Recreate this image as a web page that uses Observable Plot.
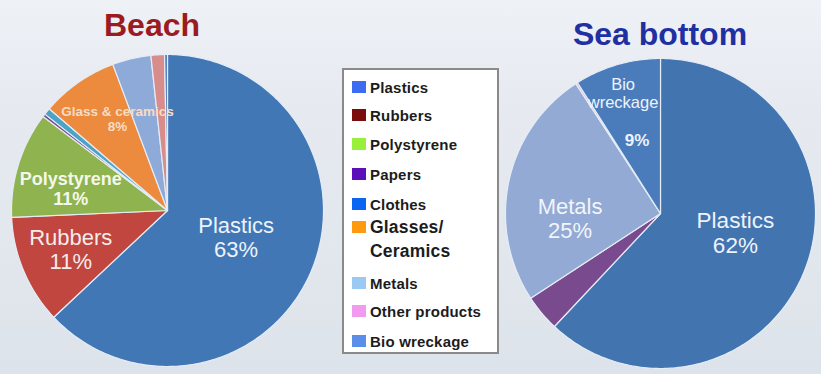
<!DOCTYPE html>
<html>
<head>
<meta charset="utf-8">
<script src="https://cdn.jsdelivr.net/npm/d3@7"></script>
<script src="https://cdn.jsdelivr.net/npm/@observablehq/plot@0.6"></script>
<style>
  html, body { margin: 0; padding: 0; }
  body { width: 821px; height: 374px; overflow: hidden; font-family: Arial, "Liberation Sans", sans-serif; }
  #wrap { position: relative; width: 821px; height: 374px;
    background: linear-gradient(180deg, #eef1f6 0%, #e6eaf0 30%, #e3e8ee 60%, #dde3ea 100%); }
  #chart { position: absolute; left: 0; top: 0; }
  .title { position: absolute; font-weight: bold; font-size: 32px; line-height: 1; white-space: nowrap; transform: translateX(-50%); }
  #legend { position: absolute; left: 342px; top: 68px; width: 157px; height: 286px; background: #ffffff;
    border: 2px solid #8a8a8a; box-sizing: border-box; }
  .li { position: absolute; left: 8px; display: flex; align-items: flex-start; font-weight: bold; font-size: 15px; letter-spacing: 0.2px; color: #1c1c1c; white-space: nowrap; }
  .sw { width: 14px; height: 12px; margin-right: 4px; margin-top: 2px; flex: none; }
</style>
</head>
<body>
<div id="wrap">
  <div id="chart"></div>
  <div class="title" style="left:152px; top:9px; color:#9b1b20;">Beach</div>
  <div class="title" style="left:660px; top:18px; color:#1f30a2;">Sea bottom</div>
  <div id="legend"></div>
</div>
<script>
// ---- data ----
const categories = ["Plastics", "Rubbers", "Polystyrene", "Papers", "Clothes", "Glasses/Ceramics", "Metals", "Other products", "Bio wreckage"];
const beachValues = [63, 11.3, 11, 0.3, 0.7, 8, 4, 1.4, 0.3];
const seaValues = [62, 0, 0, 3.8, 0, 0, 25, 0.2, 9];
const legendColors = ["#3d6cf0", "#7a0c0c", "#98f03a", "#5a0fb8", "#0a66f0", "#ff9a10", "#9cc8f4", "#f29af0", "#5b8ee8"];
const beachPieColors = ["#4277b6", "#c0463f", "#8fb34f", "#7a4a8e", "#4ba3c6", "#ec8a3d", "#8eaad8", "#d88d8a", "#4a7cbc"];
const seaPieColors = ["#4274b0", "#c0463f", "#8fb34f", "#7a4a8e", "#4ba3c6", "#ec8a3d", "#93aad4", "#d8a0c8", "#4a7cbc"];
const beachLabels = [
  {text: "Plastics\n63%", dx: 0.44, dy: -0.17, size: 22, color: "#eef3fb"},
  {text: "Rubbers\n11%", dx: -0.62, dy: -0.25, size: 22, color: "#f6ecec"},
  {text: "Polystyrene\n11%", dx: -0.62, dy: 0.14, size: 18, color: "#f4f8ea", weight: "bold"},
  {text: "Glass & ceramics\n8%", dx: -0.32, dy: 0.59, size: 13.5, color: "#f7dcc4", weight: "bold"}
];
const seaLabels = [
  {text: "Bio\nwreckage", dx: -0.24, dy: 0.77, size: 16.5, color: "#eef3fb"},
  {text: "9%", dx: -0.15, dy: 0.47, size: 17, color: "#eef3fb", weight: "bold"},
  {text: "Metals\n25%", dx: -0.58, dy: -0.03, size: 22, color: "#f2f5fb"},
  {text: "Plastics\n62%", dx: 0.48, dy: -0.12, size: 22.5, color: "#eef3fb"}
];

// ---- layout (pixels) ----
const W = 821, H = 374;
const unit = 156;                    // pixels per unit radius
const beachC = {px: 167, py: 210, r: 1.0};
const seaC = {px: 660, py: 213, r: 155 / 156};

const toUx = px => (px - beachC.px) / unit;
const toUy = py => (beachC.py - py) / unit;

function slices(values, colors, c, pie) {
  const total = d3.sum(values);
  const pts = [];
  let a = 0;
  const cx = toUx(c.px), cy = toUy(c.py);
  values.forEach((v, i) => {
    if (v <= 0) return;
    const a0 = a, a1 = a + (v / total) * 2 * Math.PI;
    a = a1;
    const key = pie + "-" + categories[i];
    pts.push({key, color: colors[i], x: cx, y: cy});
    const n = Math.max(2, Math.ceil((a1 - a0) / (Math.PI / 180)));
    for (let k = 0; k <= n; k++) {
      const t = a0 + (a1 - a0) * k / n;
      pts.push({key, color: colors[i], x: cx + c.r * Math.sin(t), y: cy + c.r * Math.cos(t)});
    }
  });
  return pts;
}

function labels(list, c) {
  return list.map(l => ({...l, x: toUx(c.px) + l.dx, y: toUy(c.py) + l.dy}));
}

const piePts = [...slices(beachValues, beachPieColors, beachC, "beach"), ...slices(seaValues, seaPieColors, seaC, "sea")];
const labs = [...labels(beachLabels, beachC), ...labels(seaLabels, seaC)];

const chart = Plot.plot({
  width: W, height: H,
  marginTop: 0, marginRight: 0, marginBottom: 0, marginLeft: 0,
  x: {domain: [toUx(0), toUx(W)], axis: null},
  y: {domain: [toUy(H), toUy(0)], axis: null},
  color: {type: "identity"},
  style: {background: "transparent", overflow: "visible"},
  marks: [
    Plot.line(piePts, {x: "x", y: "y", z: "key", fill: "color", stroke: "#e4ecf6", strokeWidth: 1.2, curve: "linear-closed"}),
    ...labs.map(l => Plot.text([l], {x: "x", y: "y", text: "text", fill: l.color, fontSize: l.size,
      fontWeight: l.weight || "normal", fontFamily: "Arial, 'Liberation Sans', sans-serif", lineHeight: 1.1}))
  ]
});
document.getElementById("chart").appendChild(chart);

// ---- legend ----
const rowTops = [9, 37, 66, 96, 126, 149, 205, 233, 263];
const legend = document.getElementById("legend");
categories.forEach((cat, i) => {
  const row = document.createElement("div");
  row.className = "li";
  row.style.top = rowTops[i] + "px";
  const sw = document.createElement("div");
  sw.className = "sw";
  sw.style.background = legendColors[i];
  row.appendChild(sw);
  const t = document.createElement("div");
  if (cat === "Glasses/Ceramics") {
    t.innerHTML = "Glasses/<br>Ceramics";
    t.style.fontSize = "17.5px";
    t.style.lineHeight = "24px";
    t.style.marginTop = "-4px";
  } else {
    t.textContent = cat;
  }
  row.appendChild(t);
  legend.appendChild(row);
});
</script>
</body>
</html>
